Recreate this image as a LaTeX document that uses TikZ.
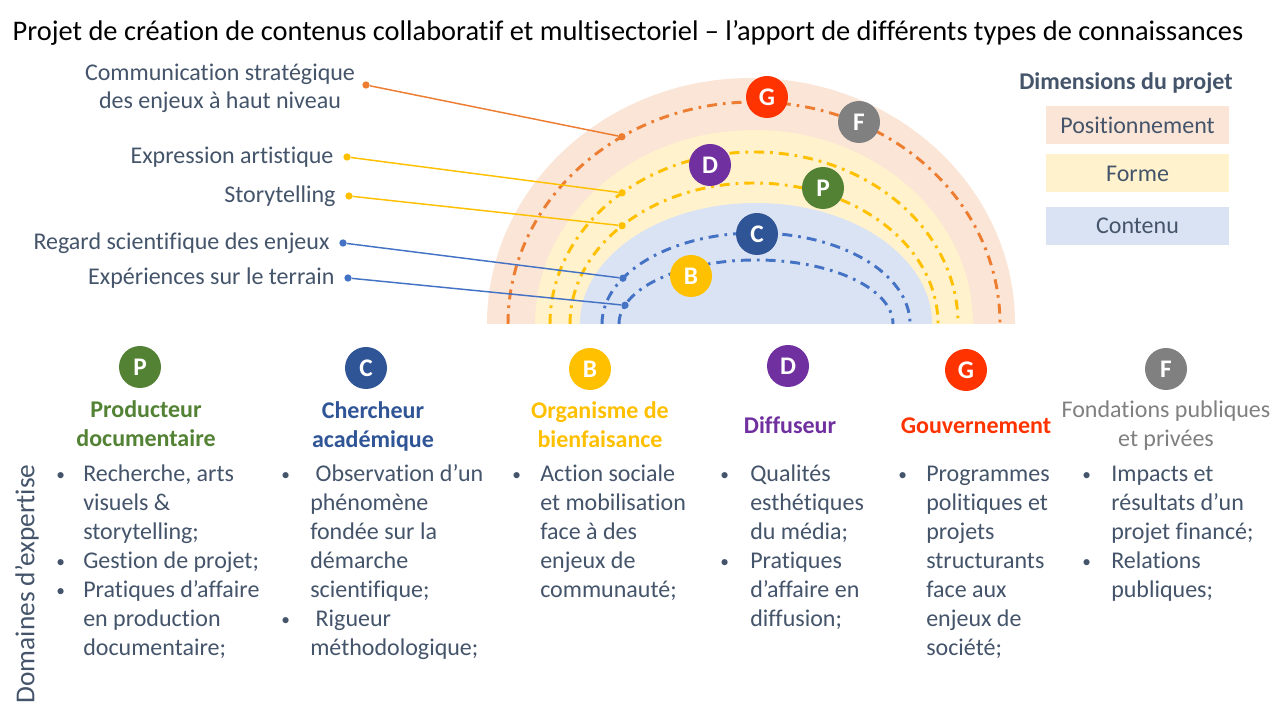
\documentclass[tikz,border=0pt]{standalone}
\usepackage{fontspec}
\setmainfont{Carlito}[Ligatures=NoCommon]
\usetikzlibrary{positioning}

\definecolor{txt}{HTML}{44546A}
\definecolor{posF}{HTML}{FBE5D6}
\definecolor{forF}{HTML}{FFF2CC}
\definecolor{conF}{HTML}{DAE3F3}
\definecolor{orL}{HTML}{ED7D31}
\definecolor{jaL}{HTML}{FFC000}
\definecolor{blL}{HTML}{4472C4}
\definecolor{cG}{HTML}{FF3300}
\definecolor{cF}{HTML}{808080}
\definecolor{cD}{HTML}{7030A0}
\definecolor{cP}{HTML}{548235}
\definecolor{cC}{HTML}{2F5597}
\definecolor{cB}{HTML}{FFC000}

\newcommand{\puce}{{\fontsize{13}{13}\selectfont\raisebox{1pt}{•}}}

\tikzset{
  pastille/.style={circle, fill=#1, minimum size=31.5pt, inner sep=0pt, text=white,
    font=\bfseries\fontsize{19}{20}\selectfont},
  pt/.style={circle, fill=#1, minimum size=5.5pt, inner sep=0pt},
  lien/.style={draw=#1, line width=1.1pt},
  arcdd/.style={draw=#1, line width=2.2pt, dash pattern=on 7.5pt off 4.5pt on 2pt off 4.5pt},
  lbl/.style={text=txt, font=\fontsize{18}{21}\selectfont, inner sep=0pt},
  liste/.style={text=txt, font=\fontsize{18}{21.75}\selectfont, inner sep=0pt, anchor=base west},
  entete/.style={text=#1, font=\bfseries\fontsize{18}{21.75}\selectfont, inner sep=0pt, anchor=base},
  legbox/.style={text=txt, font=\fontsize{18}{21}\selectfont, minimum width=137.25pt,
    minimum height=28.5pt, inner sep=0pt}
}

\begin{document}
\begin{tikzpicture}[x=0.75pt,y=0.75pt]
\useasboundingbox (0,0) rectangle (1280,720);
\fill[white] (0,0) rectangle (1280,720);

% titre
\node[inner sep=0pt, anchor=base, font=\fontsize{21.3}{25}\selectfont] (titre) at (628,679)
  {Projet de création de contenus collaboratif et multisectoriel – l’apport de différents types de connaissances};

% bandes de l'arc-en-ciel
\fill[posF] (487,396) arc[start angle=180, end angle=0, x radius=264, y radius=246] -- cycle;
\fill[forF] (535,396) arc[start angle=180, end angle=0, x radius=219, y radius=194] -- cycle;
\fill[conF] (580,396) arc[start angle=180, end angle=0, x radius=176, y radius=121] -- cycle;

% arcs pointilles
\draw[arcdd=orL] (508,396) arc[start angle=180, end angle=0, x radius=246, y radius=222];
\draw[arcdd=jaL] (550,396) arc[start angle=180, end angle=0, x radius=204, y radius=172];
\draw[arcdd=jaL] (570,396) arc[start angle=180, end angle=0, x radius=184, y radius=141];
\draw[arcdd=blL] (602,396) arc[start angle=180, end angle=0, x radius=154, y radius=91];
\draw[arcdd=blL] (619,396) arc[start angle=180, end angle=0, x radius=137, y radius=64];

% points sur les arcs
\node[pt=orL] (aStrat) at ({754+246*cos(122.5)},{396+222*sin(122.5)}) {};
\node[pt=jaL] (aArt) at ({754+204*cos(130.3)},{396+172*sin(130.3)}) {};
\node[pt=jaL] (aStory) at ({754+184*cos(135.8)},{396+141*sin(135.8)}) {};
\node[pt=blL] (aSci) at ({756+154*cos(149.8)},{396+91*sin(149.8)}) {};
\node[pt=blL] (aTerr) at ({756+137*cos(163)},{396+64*sin(163)}) {};

% points des etiquettes
\node[pt=orL] (sStrat) at (366,635) {};
\node[pt=jaL] (sArt) at (347,563) {};
\node[pt=jaL] (sStory) at (349,524) {};
\node[pt=blL] (sSci) at (343,477) {};
\node[pt=blL] (sTerr) at (348,442) {};

\draw[lien=orL] (sStrat) -- (aStrat);
\draw[lien=jaL] (sArt) -- (aArt);
\draw[lien=jaL] (sStory) -- (aStory);
\draw[lien=blL] (sSci) -- (aSci);
\draw[lien=blL] (sTerr) -- (aTerr);

% etiquettes
\node[lbl, align=center] (tStrat) at (220,632) {Communication stratégique\\des enjeux à haut niveau};
\node[lbl, left=7pt of sArt] (tArt) {Expression artistique};
\node[lbl, left=7pt of sStory] (tStory) {Storytelling};
\node[lbl, left=7pt of sSci] (tSci) {Regard scientifique des enjeux};
\node[lbl, left=7pt of sTerr] (tTerr) {Expériences sur le terrain};

% pastilles de l'arc-en-ciel
\node[pastille=cG] (rG) at (767,623) {G};
\node[pastille=cF] (rF) at (859,598) {F};
\node[pastille=cD] (rD) at (710,555) {D};
\node[pastille=cP] (rP) at (823,532) {P};
\node[pastille=cC] (rC) at (757,486) {C};
\node[pastille=cB] (rB) at (691,444) {B};

% legende
\node[text=txt, font=\bfseries\fontsize{18}{21}\selectfont, inner sep=0pt] (legende) at (1126,637) {Dimensions du projet};
\node[legbox, fill=posF] (lPos) at (1137.5,595) {Positionnement};
\node[legbox, fill=forF] (lFor) at (1137.5,546.5) {Forme};
\node[legbox, fill=conF] (lCon) at (1137.5,494) {Contenu};

% domaines d'expertise
\node[text=txt, rotate=90, font=\fontsize{20.5}{24}\selectfont, inner sep=0pt] (domaines) at (27,136) {Domaines d’expertise};

\node[pastille=cP] (bP) at (140,353) {P};
\node[pastille=cC] (bC) at (366,352) {C};
\node[pastille=cB] (bB) at (590,351) {B};
\node[pastille=cD] (bD) at (788,354) {D};
\node[pastille=cG] (bG) at (966,350) {G};
\node[pastille=cF] (bF) at (1166,351) {F};

\node[entete=cP] (hP) at (146,302) {\begin{tabular}[t]{@{}c@{}}Producteur\\documentaire\end{tabular}};
\node[entete=cC] (hC) at (373,301) {\begin{tabular}[t]{@{}c@{}}Chercheur\\académique\end{tabular}};
\node[entete=cB] (hB) at (600,301) {\begin{tabular}[t]{@{}c@{}}Organisme de\\bienfaisance\end{tabular}};
\node[entete=cD] (hD) at (790,286) {Diffuseur};
\node[entete=cG] (hG) at (976,286) {Gouvernement};
\node[entete=cF, font=\fontsize{18}{21.75}\selectfont] (hF) at (1166,302)
  {\begin{tabular}[t]{@{}c@{}}Fondations publiques\\et privées\end{tabular}};

\node[liste] (lP) at (56,238) {\begin{tabular}[t]{@{}p{20.25pt}@{}l@{}}
\puce & Recherche, arts\\
  & visuels \&\\
  & storytelling;\\
\puce & Gestion de projet;\\
\puce & Pratiques d’affaire\\
  & en production\\
  & documentaire;
\end{tabular}};
\node[liste] (lC) at (281,238) {\begin{tabular}[t]{@{}p{21.75pt}@{}l@{}}
\puce & \ Observation d’un\\
  & phénomène\\
  & fondée sur la\\
  & démarche\\
  & scientifique;\\
\puce & \ Rigueur\\
  & méthodologique;
\end{tabular}};
\node[liste] (lB) at (512,238) {\begin{tabular}[t]{@{}p{21pt}@{}l@{}}
\puce & Action sociale\\
  & et mobilisation\\
  & face à des\\
  & enjeux de\\
  & communauté;
\end{tabular}};
\node[liste] (lD) at (720,238) {\begin{tabular}[t]{@{}p{22.5pt}@{}l@{}}
\puce & Qualités\\
  & esthétiques\\
  & du média;\\
\puce & Pratiques\\
  & d’affaire en\\
  & diffusion;
\end{tabular}};
\node[liste] (lG) at (898,238) {\begin{tabular}[t]{@{}p{21pt}@{}l@{}}
\puce & Programmes\\
  & politiques et\\
  & projets\\
  & structurants\\
  & face aux\\
  & enjeux de\\
  & société;
\end{tabular}};
\node[liste] (lF) at (1082,238) {\begin{tabular}[t]{@{}p{21.75pt}@{}l@{}}
\puce & Impacts et\\
  & résultats d’un\\
  & projet financé;\\
\puce & Relations\\
  & publiques;
\end{tabular}};
\end{tikzpicture}
\end{document}
